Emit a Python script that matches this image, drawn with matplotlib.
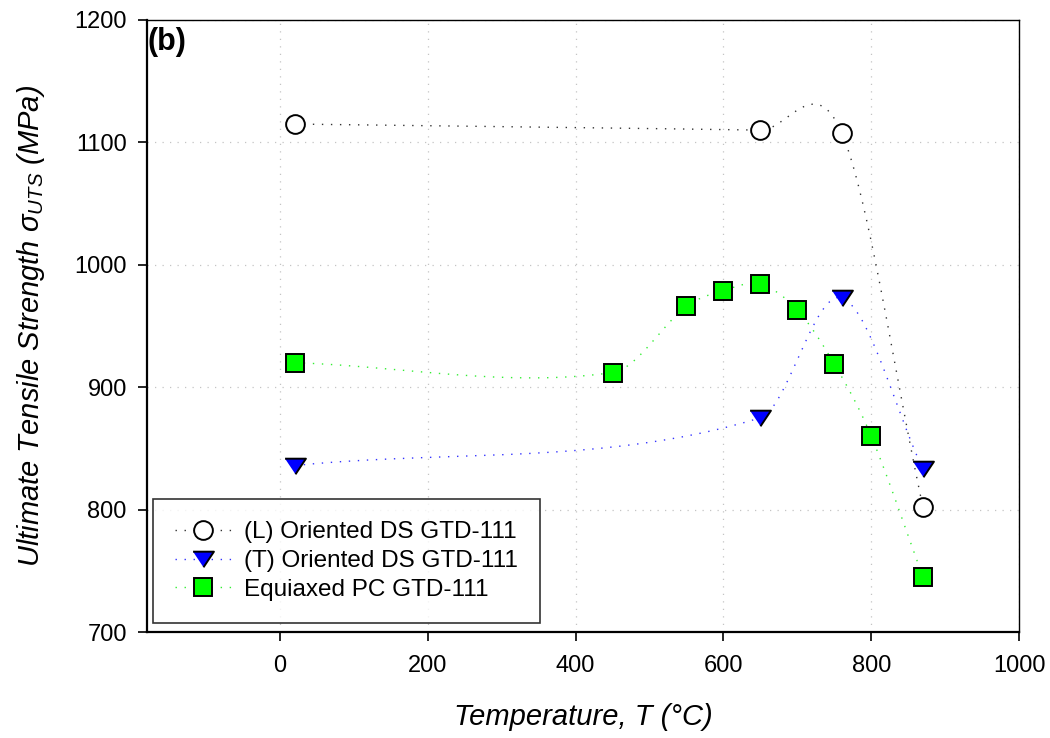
import numpy as np
import matplotlib
matplotlib.use("Agg")
import matplotlib.pyplot as plt

plt.rcParams["font.family"] = ["Liberation Sans", "DejaVu Sans"]
plt.rcParams["mathtext.fontset"] = "custom"
plt.rcParams["mathtext.rm"] = "Liberation Sans"
plt.rcParams["mathtext.it"] = "Liberation Sans:italic"

# data
temp_l = [20, 650, 760, 870]
uts_l = [1115, 1110, 1108, 802]

temp_t = [20, 650, 760, 870]
uts_t = [836, 875, 973, 833]

temp_pc = [20, 450, 550, 600, 650, 700, 750, 800, 870]
uts_pc = [920, 912, 966, 979, 984, 963, 919, 860, 745]

labels = ["(L) Oriented DS GTD-111", "(T) Oriented DS GTD-111", "Equiaxed PC GTD-111"]
x_ticks = [0, 200, 400, 600, 800, 1000]
y_ticks = [700, 800, 900, 1000, 1100, 1200]


def smooth_curve(x, y, n=60):
    # cardinal (Catmull-Rom style) curve through the points, for the dotted line
    x = np.asarray(x, float)
    y = np.asarray(y, float)
    k = len(x)
    m = np.zeros(k)
    m[0] = (y[1] - y[0]) / (x[1] - x[0])
    m[-1] = (y[-1] - y[-2]) / (x[-1] - x[-2])
    for i in range(1, k - 1):
        m[i] = (y[i + 1] - y[i - 1]) / (x[i + 1] - x[i - 1])
    xs_all, ys_all = [], []
    for i in range(k - 1):
        h = x[i + 1] - x[i]
        t = np.linspace(0, 1, n)
        h00 = 2 * t ** 3 - 3 * t ** 2 + 1
        h10 = t ** 3 - 2 * t ** 2 + t
        h01 = -2 * t ** 3 + 3 * t ** 2
        h11 = t ** 3 - t ** 2
        xs_all.append(x[i] + t * h)
        ys_all.append(h00 * y[i] + h10 * h * m[i] + h01 * y[i + 1] + h11 * h * m[i + 1])
    return np.concatenate(xs_all), np.concatenate(ys_all)


fig = plt.figure(figsize=(10.5, 7.38), dpi=100)
ax = fig.add_axes([0.14, 0.1436, 0.8305, 0.8293])

tri = [(-1, 0.75), (1, 0.75), (0, -0.75)]
series = [
    (temp_l, uts_l, "#333333", "o", "white", 13.5),
    (temp_t, uts_t, "#3333ff", tri, "#0000ff", 15),
    (temp_pc, uts_pc, "#33ee33", "s", "#00ff00", 12.5),
]

for (tx, uy, lc, mk, fc, ms), lab in zip(series, labels):
    xs, ys = smooth_curve(tx, uy)
    ax.plot(xs, ys, linestyle=(0, (1, 5.5)), color=lc, linewidth=1.0, zorder=2)
    ax.plot(tx, uy, linestyle="none", marker=mk, markersize=ms,
            markerfacecolor=fc, markeredgecolor="black", markeredgewidth=1.4, zorder=3)
    # legend proxy: dotted line with marker
    ax.plot([], [], linestyle=(0, (1, 5.5)), color=lc, linewidth=1.0, marker=mk,
            markersize=ms, markerfacecolor=fc, markeredgecolor="black",
            markeredgewidth=1.4, label=lab)

ax.set_xlim(-180, 1000)
ax.set_ylim(700, 1200)
ax.set_xticks(x_ticks)
ax.set_yticks(y_ticks)
ax.grid(True, color="#c4c4c4", linestyle=(0, (1, 5)), linewidth=0.9)
ax.set_axisbelow(True)

for side in ["left", "bottom"]:
    ax.spines[side].set_linewidth(1.6)
for side in ["top", "right"]:
    ax.spines[side].set_linewidth(1.0)

ax.tick_params(direction="out", length=6.5, width=1.2, labelsize=17)
ax.tick_params(axis="x", pad=10)
ax.tick_params(axis="y", pad=8)

ax.set_xlabel("Temperature, T (°C)", fontsize=21, fontstyle="italic", labelpad=19)
ax.set_ylabel("Ultimate Tensile Strength σ$_{\\mathit{UTS}}$ (MPa)", fontsize=21,
              fontstyle="italic", labelpad=20)

ax.text(0.001, 0.988, "(b)", transform=ax.transAxes, fontsize=22, fontweight="bold",
        ha="left", va="top")

leg = ax.legend(loc="lower left", bbox_to_anchor=(0.007, 0.015), borderaxespad=0,
                fontsize=17.5, frameon=True, fancybox=False, edgecolor="black",
                handlelength=2.3, labelspacing=0.28, borderpad=0.9, handletextpad=0.55)
leg.get_frame().set_linewidth(1.2)

fig.savefig("out.png", dpi=100)
